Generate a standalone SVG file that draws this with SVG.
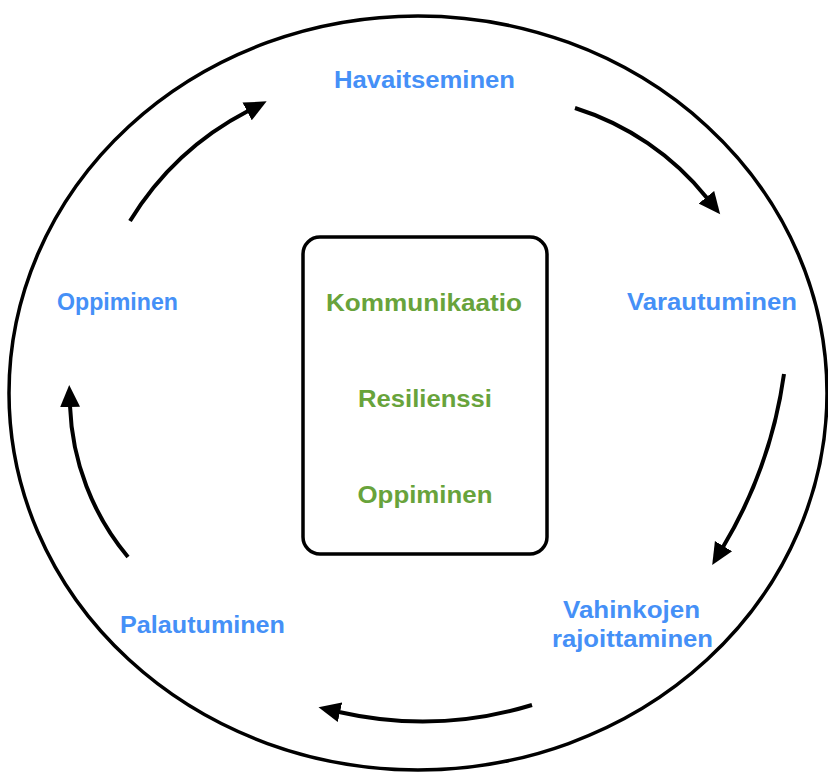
<svg xmlns="http://www.w3.org/2000/svg" width="828" height="773" viewBox="0 0 828 773">
<style>
.blue{fill:#4590f7;font-family:"Liberation Sans",Arial,sans-serif;font-weight:bold;font-size:23px;text-anchor:middle}
.green{fill:#68a33b;font-family:"Liberation Sans",Arial,sans-serif;font-weight:bold;font-size:24px;text-anchor:middle}
.conn{fill:none;stroke:#000;stroke-width:4}
</style>
<defs>
<marker id="ah" markerUnits="userSpaceOnUse" markerWidth="24" markerHeight="22" refX="1" refY="10" orient="auto" viewBox="0 0 24 20">
<path d="M0,0 L22,10 L0,20 z" fill="#000"/>
</marker>
</defs>
<rect width="828" height="773" fill="#fff"/>
<g id="outer">
<ellipse cx="418" cy="393" rx="409" ry="377" fill="none" stroke="#000" stroke-width="3.5"/>
</g>
<g id="center">
<rect x="303" y="237" width="244" height="317" rx="17" fill="none" stroke="#000" stroke-width="3.5"/>
<text class="green" x="424" y="311" textLength="196" lengthAdjust="spacingAndGlyphs">Kommunikaatio</text>
<text class="green" x="425" y="407" textLength="134" lengthAdjust="spacingAndGlyphs">Resilienssi</text>
<text class="green" x="425" y="503" textLength="135" lengthAdjust="spacingAndGlyphs">Oppiminen</text>
</g>
<g id="havaitseminen"><text class="blue" x="424.5" y="88" textLength="181" lengthAdjust="spacingAndGlyphs">Havaitseminen</text></g>
<g id="varautuminen"><text class="blue" x="712" y="310" textLength="170" lengthAdjust="spacingAndGlyphs">Varautuminen</text></g>
<g id="vahinkojen"><text class="blue" x="631.5" y="618" textLength="137" lengthAdjust="spacingAndGlyphs">Vahinkojen</text>
<text class="blue" x="632.5" y="647" textLength="161" lengthAdjust="spacingAndGlyphs">rajoittaminen</text></g>
<g id="palautuminen"><text class="blue" x="202.5" y="633" textLength="165" lengthAdjust="spacingAndGlyphs">Palautuminen</text></g>
<g id="oppiminen"><text class="blue" x="117.5" y="310" textLength="121" lengthAdjust="spacingAndGlyphs">Oppiminen</text></g>
<g id="connectors">
<path class="conn" d="M130,221 A300,300 0 0 1 248,111" marker-end="url(#ah)"/>
<path class="conn" d="M575,108 A275,275 0 0 1 707,198" marker-end="url(#ah)"/>
<path class="conn" d="M784,374 A460,460 0 0 1 723,547" marker-end="url(#ah)"/>
<path class="conn" d="M532,705 A375,375 0 0 1 339,712" marker-end="url(#ah)"/>
<path class="conn" d="M128,557 A250,250 0 0 1 70,406" marker-end="url(#ah)"/>
</g>
</svg>
